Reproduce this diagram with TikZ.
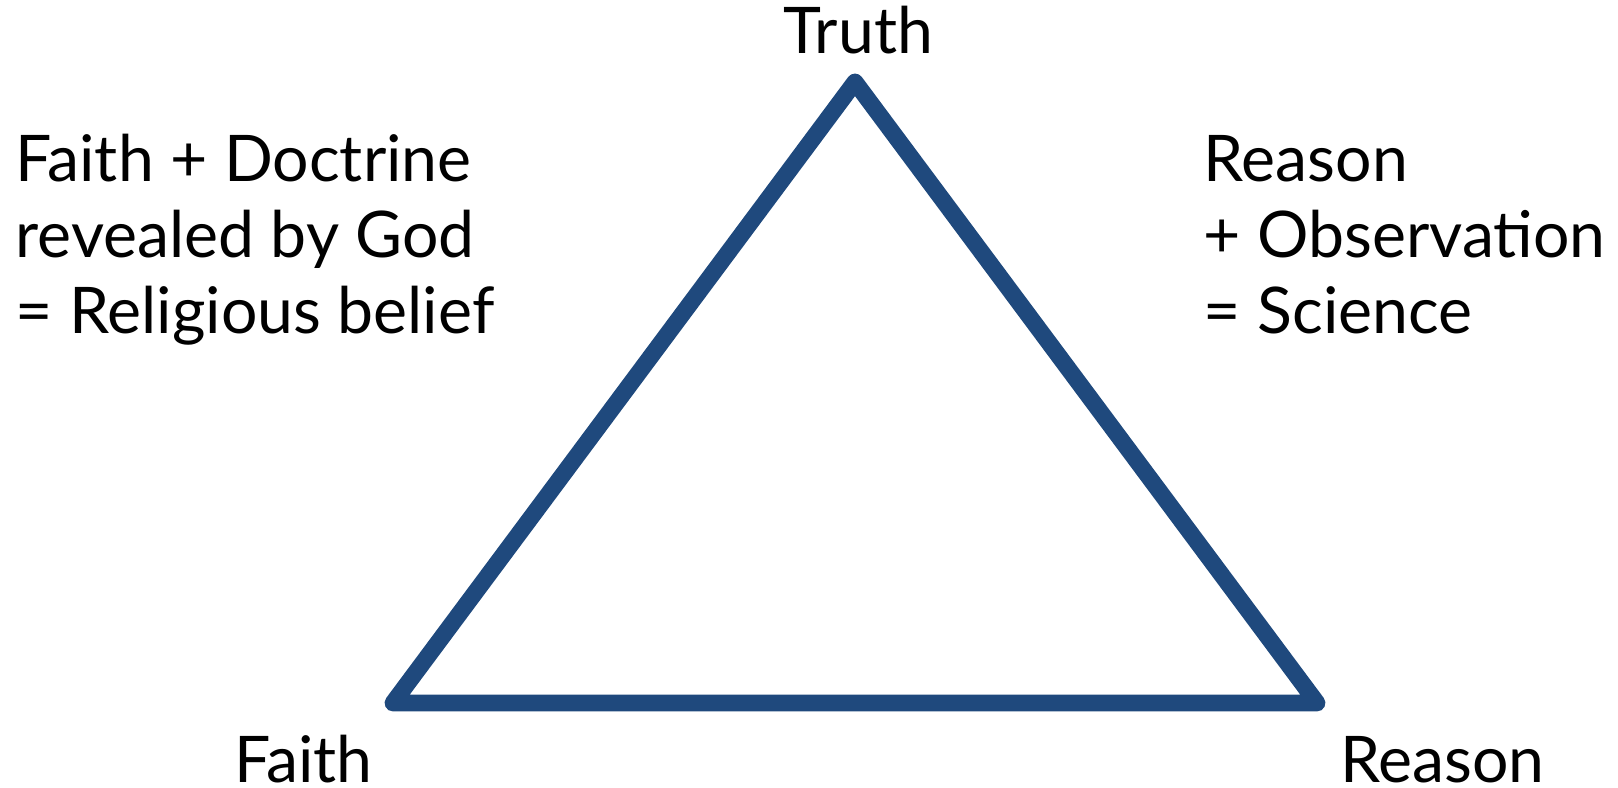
\documentclass[tikz,border=0pt]{standalone}
\usepackage{fontspec}
\setmainfont{Lato}
\usepackage{tikz}
\usetikzlibrary{positioning}
\usepackage{xcolor}
\definecolor{tridark}{RGB}{31,73,125}

\begin{document}
\begin{tikzpicture}[x=1cm, y=-1cm, font=\fontsize{18.3}{21.6}\selectfont,
  lbl/.style={inner sep=0pt},
  side/.style={inner sep=0pt, align=left}]
  \useasboundingbox (0,0) rectangle (16.18,7.88);
  % corners
  \coordinate (top) at (8.55,0.82);
  \coordinate (left) at (3.93,7.03);
  \coordinate (right) at (13.17,7.03);
  \draw[tridark, line width=4.8pt, line join=round] (top) -- (right) -- (left) -- cycle;
  % labels
  \node[lbl, anchor=base] (truth) at (8.585,0.53) {Truth};
  \node[lbl, anchor=base] (faith) at (3.035,7.82) {Faith};
  \node[lbl, anchor=base] (reason) at (14.425,7.82) {Reason};
  \node[side, anchor=base west] (faithdef) at (0.15,3.33) {Faith + Doctrine\\revealed by God\\= Religious belief};
  \node[side, anchor=base west] (reasondef) at (12.03,3.33) {Reason\\+ Observation\\= Science};
\end{tikzpicture}
\end{document}
